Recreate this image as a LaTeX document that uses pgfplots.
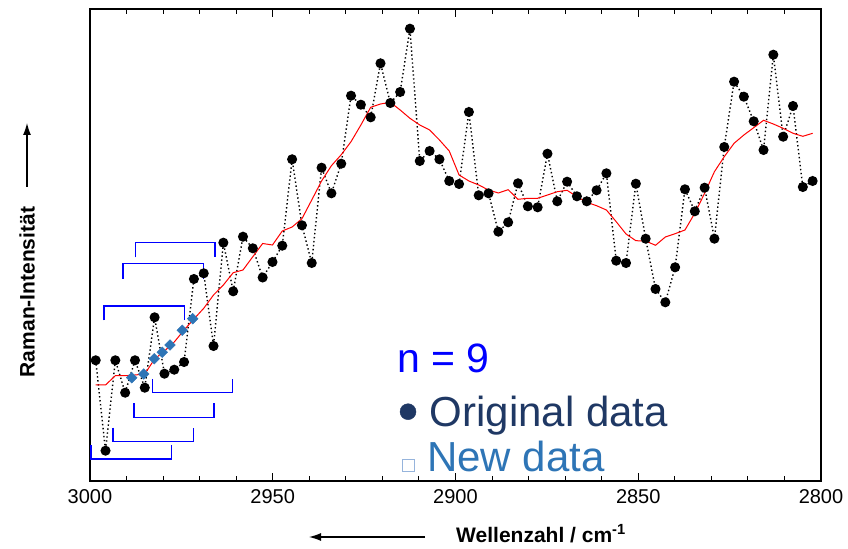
\documentclass[border=0pt]{standalone}
\usepackage{pgfplots}
\pgfplotsset{compat=1.18}
\usepackage{pgfplotstable}
\usepackage{fontspec}
\setmainfont{Liberation Sans}
\usetikzlibrary{arrows.meta}
\definecolor{nblue}{RGB}{0,0,255}
\definecolor{navy}{RGB}{31,56,100}
\definecolor{newblue}{RGB}{46,117,182}
\definecolor{sqblue}{RGB}{150,180,220}

\pgfplotstableread{
x y
2998.44 120.7
2995.75 30.3
2993.07 120.7
2990.38 88.3
2987.69 120.7
2985.01 93.3
2982.32 163.7
2979.63 107.3
2976.94 111.3
2974.26 119
2971.57 202
2968.88 207.7
2966.20 135
2963.51 238.3
2960.82 189.7
2958.14 244.3
2955.45 232.7
2952.76 203.5
2950.07 219
2947.39 235.3
2944.70 321.7
2942.01 255.7
2939.33 218
2936.64 313.3
2933.95 287.7
2931.26 317.3
2928.58 385.3
2925.89 376.3
2923.20 363.7
2920.52 417.7
2917.83 378
2915.14 389
2912.46 452.3
2909.77 320
2907.08 330
2904.39 321.7
2901.71 300
2899.02 297
2896.33 369
2893.65 285.7
2890.96 287.7
2888.27 249.3
2885.59 258.7
2882.90 297.7
2880.21 274.7
2877.52 273.7
2874.84 327.3
2872.15 279.7
2869.46 299.3
2866.78 284.7
2864.09 279.7
2861.40 290.7
2858.71 307.7
2856.03 220.3
2853.34 218
2850.65 297.3
2847.97 242.3
2845.28 192
2842.59 178.7
2839.91 213.7
2837.22 291.7
2834.53 269.7
2831.84 293.3
2829.16 242.3
2826.47 334
2823.78 399.3
2821.10 384.3
2818.41 359.7
2815.72 331
2813.04 426.3
2810.35 344.3
2807.66 375
2804.97 294
2802.29 300
}\orig

\pgfplotstableread{
x y
2998.44 96
2995.75 96
2993.07 105.3
2990.38 105.3
2987.69 106
2985.01 107
2982.32 122
2979.63 130
2976.94 139
2974.26 151
2971.57 162
2968.88 172.7
2966.20 186
2963.51 196
2960.82 208.3
2958.14 211
2955.45 224.3
2952.76 237.5
2950.07 236
2947.39 250
2944.70 254
2942.01 262.3
2939.33 281
2936.64 300
2933.95 315.3
2931.26 326.3
2928.58 339.3
2925.89 356
2923.20 373.7
2920.52 377
2917.83 378.7
2915.14 371
2912.46 362.7
2909.77 356
2907.08 351
2904.39 341
2901.71 330
2899.02 306
2896.33 300
2893.65 296
2890.96 291
2888.27 288
2885.59 291.3
2882.90 281.7
2880.21 282.7
2877.52 282.7
2874.84 286
2872.15 289.3
2869.46 290.7
2866.78 284.3
2864.09 278.7
2861.40 275.3
2858.71 271
2856.03 259.3
2853.34 247
2850.65 240.3
2847.97 240
2845.28 235.7
2842.59 244
2839.91 247.3
2837.22 251
2834.53 267.7
2831.84 287.7
2829.16 309.3
2826.47 324.3
2823.78 337.7
2821.10 346
2818.41 353.3
2815.72 360.7
2813.04 357
2810.35 352.7
2807.66 347.7
2804.97 344.7
2802.29 347.7
}\smooth

\begin{document}
\begin{tikzpicture}
\useasboundingbox (0,0) rectangle (848bp,549bp);
\begin{axis}[
  at={(90bp,68bp)}, anchor=south west,
  scale only axis, width=731bp, height=471.7bp,
  x dir=reverse, xmin=2800, xmax=3000, ymin=0, ymax=471.7,
  xtick={2800,2850,...,3000}, minor xtick={2810,2820,...,2990},
  ytick=\empty, minor ytick={8.5,27.8,...,472},
  xticklabel style={font=\fontsize{20bp}{24bp}\selectfont, yshift=-5bp},
  /pgf/number format/assume math mode=true,
  /pgf/number format/1000 sep={},
  tick align=inside,
  major tick length=8bp, minor tick length=5bp,
  tick style={black, line width=1bp},
  axis line style={line width=1.6bp},
  clip=false,
]
\addplot[black, line width=1.4bp, dash pattern=on 1.4bp off 2.6bp,
  mark=*, mark size=4.3bp, mark options={solid, fill=black}] table {\orig};
\addplot[red, line width=1bp] table {\smooth};
\addplot[only marks, mark=square*, mark size=3.8bp,
  mark options={rotate=45, fill=newblue, draw=newblue}] coordinates {
  (2988.59,103.3) (2985.31,107) (2982.41,122.3) (2980.22,128.7)
  (2978.11,136) (2974.75,150.7) (2971.90,162.3)};
% window brackets
\addplot[nblue, line width=1.6bp] coordinates {(2987.50,223.7) (2987.50,238.3) (2965.72,238.3) (2965.72,223.7)};
\addplot[nblue, line width=1.6bp] coordinates {(2990.89,202.3) (2990.89,217.3) (2968.89,217.3) (2968.89,202.3)};
\addplot[nblue, line width=1.6bp] coordinates {(2996.09,160.7) (2996.09,175) (2974.09,175) (2974.09,160.7)};
\addplot[nblue, line width=1.6bp] coordinates {(2982.85,102) (2982.85,88.3) (2960.96,88.3) (2960.96,102)};
\addplot[nblue, line width=1.6bp] coordinates {(2987.88,77.7) (2987.88,63.3) (2966.00,63.3) (2966.00,77.7)};
\addplot[nblue, line width=1.6bp] coordinates {(2993.63,53.3) (2993.63,39.3) (2971.65,39.3) (2971.65,53.3)};
\addplot[nblue, line width=1.6bp] coordinates {(2999.73,35.7) (2999.73,21.7) (2977.65,21.7) (2977.65,35.7)};
% legend-like annotation
\addplot[only marks, mark=*, mark size=8bp, navy] coordinates {(2912.99,69.3)};
\addplot[only marks, mark=square, mark size=6bp, sqblue, line width=0.8bp] coordinates {(2912.99,16)};
\node[anchor=base west, inner sep=0, text=nblue, font=\fontsize{41bp}{48bp}\selectfont] at (axis cs:2916.0,108.3) {n = 9};
\node[anchor=base west, inner sep=0, text=navy, font=\fontsize{42bp}{48bp}\selectfont] at (axis cs:2907.06,54.3) {Original data};
\node[anchor=base west, inner sep=0, text=newblue, font=\fontsize{42bp}{48bp}\selectfont] at (axis cs:2907.80,9.3) {New data};
\end{axis}
% axis labels with arrows
\node[anchor=base west, inner sep=0, font=\bfseries\fontsize{21bp}{24bp}\selectfont] at (456bp,7bp) {Wellenzahl / cm\textsuperscript{-1}};
\draw[-{Latex[length=12bp,width=8bp]}, line width=1.2bp] (425bp,12bp) -- (309bp,12bp);
\node[rotate=90, inner sep=0, font=\bfseries\fontsize{21bp}{24bp}\selectfont] at (27bp,257bp) {Raman-Intensität};
\draw[-{Latex[length=12bp,width=8bp]}, line width=1.2bp] (27bp,362bp) -- (27bp,426bp);
\end{tikzpicture}
\end{document}
